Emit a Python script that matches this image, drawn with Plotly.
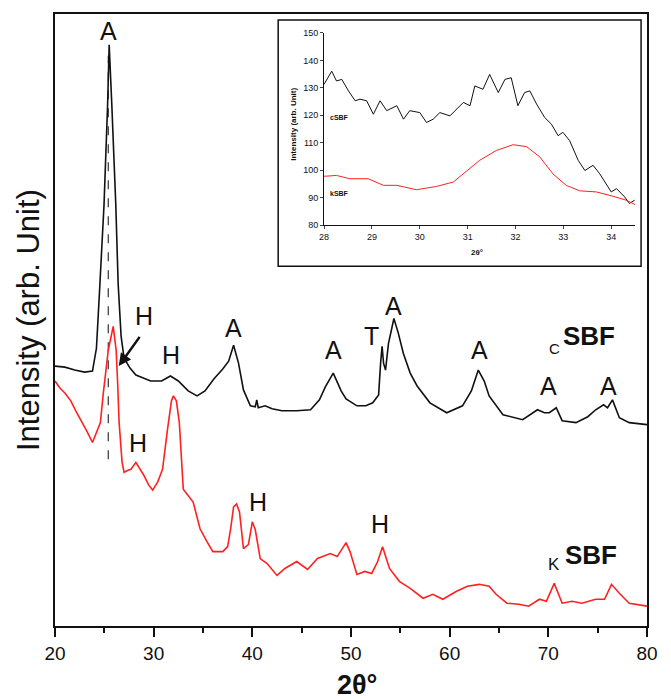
import plotly.graph_objects as go

# Main pattern: 2theta (deg) and intensity (arb. units)
csbf_2theta = [20.0, 21.0, 22.0, 23.0, 23.8, 24.2, 24.5, 24.97, 25.33, 25.49, 25.76, 26.16, 26.4, 26.7,
               27.0, 27.6, 28.2, 29.7, 30.8, 31.7, 32.5, 33.5, 34.4, 35.2, 36.1, 37.0, 37.6, 38.1,
               38.6, 39.1, 39.8, 40.3, 40.45, 40.6, 41.3, 42.0, 43.0, 44.5, 45.9, 46.8, 47.4, 48.2,
               49.0, 49.5, 50.6, 51.5, 52.2, 52.8, 53.0, 53.15, 53.3, 53.5, 53.8, 54.35, 54.8, 55.3,
               56.0, 56.7, 58.0, 59.7, 61.3, 62.2, 62.9, 63.5, 64.0, 65.4, 67.4, 68.4, 68.9, 69.6,
               70.1, 70.8, 71.4, 72.8, 74.0, 74.8, 75.6, 76.0, 76.5, 77.2, 78.2, 80.0]
csbf_int = [262, 261, 258, 256, 257, 280, 335, 425, 525, 586, 525, 425, 345, 292,
            270, 260, 253, 247, 247, 252, 247, 237, 232, 237, 249, 259, 267, 283,
            265, 238, 222, 221, 228, 220, 222, 219, 217, 217, 218, 228, 241, 255,
            237, 229, 222, 222, 225, 233, 265, 282, 265, 258, 285, 310, 295, 275,
            255, 242, 225, 215, 222, 237, 258, 247, 232, 213, 208, 215, 218, 215,
            215, 220, 207, 205, 211, 218, 223, 220, 228, 210, 205, 203]

ksbf_2theta = [20.0, 20.5, 21.0, 21.6, 22.2, 22.6, 23.2, 23.8, 24.1, 24.6, 24.9, 25.4, 25.9, 26.2,
               26.35, 26.5, 26.8, 27.0, 27.4, 27.7, 28.2, 28.6, 29.0, 29.5, 29.9, 30.4, 30.9, 31.4,
               31.8, 32.0, 32.3, 32.6, 33.0, 34.0, 34.7, 35.4, 36.0, 37.0, 37.5, 37.8, 38.1, 38.4,
               38.7, 39.1, 39.6, 40.0, 40.3, 40.8, 41.5, 42.5, 43.3, 44.5, 45.6, 46.6, 47.9, 48.6,
               49.5, 49.9, 50.6, 51.4, 52.1, 52.7, 53.2, 53.9, 54.9, 56.0, 57.3, 58.3, 59.3, 60.7,
               61.8, 63.0, 64.0, 64.7, 65.8, 67.0, 68.0, 69.1, 69.8, 70.6, 71.4, 72.4, 73.4, 74.8,
               75.7, 76.4, 77.2, 78.2, 80.0]
ksbf_int = [247, 240, 235, 227, 215, 208, 197, 185, 193, 205, 235, 278, 302, 278,
            245, 205, 165, 155, 157, 158, 165, 159, 152, 142, 137, 145, 158, 198,
            227, 232, 227, 205, 138, 125, 98, 85, 75, 75, 80, 98, 120, 123,
            115, 78, 82, 105, 97, 68, 63, 51, 58, 65, 57, 68, 73, 70,
            84, 75, 52, 55, 53, 65, 80, 58, 45, 38, 28, 32, 27, 35,
            40, 42, 40, 32, 23, 22, 20, 27, 25, 43, 23, 25, 23, 27,
            27, 42, 33, 23, 20]

# Inset: zoom on 28-34.5 deg
inset_c_2theta = [28.0, 28.16, 28.26, 28.37, 28.51, 28.65, 28.75, 28.89, 29.03, 29.17, 29.31, 29.52,
                  29.66, 29.79, 30.0, 30.14, 30.28, 30.42, 30.63, 30.77, 30.91, 31.05, 31.15, 31.32,
                  31.46, 31.64, 31.78, 31.91, 32.05, 32.19, 32.3, 32.44, 32.61, 32.75, 32.89, 32.99,
                  33.13, 33.31, 33.45, 33.62, 33.76, 34.0, 34.11, 34.28, 34.38, 34.49]
inset_c_int = [131.3, 136.1, 132.5, 133.1, 128.9, 125.3, 125.9, 125.3, 120.4, 125.3, 121.7, 123.5,
               118.6, 121.7, 121.0, 117.4, 118.6, 121.0, 119.8, 122.3, 124.7, 123.5, 130.7, 129.5,
               134.9, 128.3, 133.1, 133.7, 123.5, 128.3, 128.9, 124.1, 119.2, 116.8, 112.6, 113.8,
               110.8, 103.6, 99.9, 101.8, 98.7, 92.1, 93.3, 90.3, 87.9, 89.1]
inset_k_2theta = [28.0, 28.26, 28.54, 28.92, 29.24, 29.52, 29.93, 30.35, 30.7, 30.91, 31.25, 31.6,
                  31.95, 32.23, 32.51, 32.78, 33.06, 33.34, 33.69, 34.04, 34.31, 34.52]
inset_k_int = [97.8, 98.1, 96.9, 96.9, 94.5, 94.5, 92.9, 94.1, 95.7, 98.7, 103.6, 107.2,
               109.3, 108.6, 104.8, 98.7, 94.5, 92.5, 92.1, 90.5, 89.1, 87.3]

x_ticks = [20, 30, 40, 50, 60, 70, 80]
inset_x_ticks = [28, 29, 30, 31, 32, 33, 34]
inset_y_ticks = [80, 90, 100, 110, 120, 130, 140, 150]

# peak labels: (text, 2theta, intensity)
peak_labels = [
    ("A", 25.45, 600), ("H", 29.0, 313), ("H", 31.72, 273), ("A", 38.08, 300),
    ("A", 48.18, 278), ("T", 52.12, 292), ("A", 54.34, 323), ("A", 63.03, 278),
    ("A", 70.0, 242), ("A", 76.06, 242), ("H", 28.38, 185), ("H", 40.6, 125),
    ("H", 52.93, 103),
]
ref_peak = 25.4
ref_line_int = [168, 575]

BLACK = "#111111"
RED = "#ff2020"
FONT = "Liberation Sans, Arial, sans-serif"

fig = go.Figure()

fig.add_trace(go.Scatter(x=[ref_peak, ref_peak], y=ref_line_int, mode="lines",
                         line=dict(color="#333333", width=1.2, dash="dash"), showlegend=False))
fig.add_trace(go.Scatter(x=csbf_2theta, y=csbf_int, mode="lines",
                         line=dict(color=BLACK, width=1.6), showlegend=False))
fig.add_trace(go.Scatter(x=ksbf_2theta, y=ksbf_int, mode="lines",
                         line=dict(color=RED, width=1.6), showlegend=False))

fig.add_trace(go.Scatter(x=inset_c_2theta, y=inset_c_int, mode="lines", xaxis="x2", yaxis="y2",
                         line=dict(color=BLACK, width=1), showlegend=False))
fig.add_trace(go.Scatter(x=inset_k_2theta, y=inset_k_int, mode="lines", xaxis="x2", yaxis="y2",
                         line=dict(color=RED, width=1), showlegend=False))

annotations = []
for text, x, y in peak_labels:
    annotations.append(dict(x=x, y=y, xref="x", yref="y", text=text, showarrow=False,
                            font=dict(family=FONT, size=25, color=BLACK)))

# arrow pointing at the H shoulder
annotations.append(dict(x=26.46, y=262, ax=28.69, ay=293, xref="x", yref="y", axref="x", ayref="y",
                        text="", showarrow=True, arrowhead=2, arrowsize=1, arrowwidth=2.5,
                        arrowcolor=BLACK))

# sample names
annotations += [
    dict(x=70.6, y=280, xref="x", yref="y", text="C", showarrow=False,
         font=dict(family=FONT, size=15, color=BLACK)),
    dict(x=74.1, y=292, xref="x", yref="y", text="<b>SBF</b>", showarrow=False,
         font=dict(family=FONT, size=26, color=BLACK)),
    dict(x=70.6, y=62, xref="x", yref="y", text="K", showarrow=False,
         font=dict(family=FONT, size=17, color=BLACK)),
    dict(x=74.3, y=72, xref="x", yref="y", text="<b>SBF</b>", showarrow=False,
         font=dict(family=FONT, size=26, color=BLACK)),
]

# axis titles
annotations += [
    dict(x=-0.0456, y=0.5, xref="paper", yref="paper", text="Intensity (arb. Unit)", textangle=-90,
         xanchor="center", yanchor="middle", showarrow=False,
         font=dict(family=FONT, size=31, color=BLACK)),
    dict(x=0.510, y=-0.0956, xref="paper", yref="paper", text="<b>2θ°</b>",
         xanchor="center", yanchor="middle", showarrow=False,
         font=dict(family=FONT, size=27, color=BLACK)),
]

# inset texts
annotations += [
    dict(x=28.33, y=119.3, xref="x2", yref="y2", text="<b>cSBF</b>", showarrow=False,
         font=dict(family=FONT, size=7, color=BLACK)),
    dict(x=28.33, y=91.5, xref="x2", yref="y2", text="<b>kSBF</b>", showarrow=False,
         font=dict(family=FONT, size=7, color=BLACK)),
    dict(x=31.19, y=0.61, xref="x2", yref="paper", text="<b>2θ°</b>", showarrow=False,
         xanchor="center", yanchor="middle", font=dict(family=FONT, size=8, color=BLACK)),
    dict(x=0.403, y=0.82, xref="paper", yref="paper", text="<b>Intensity (arb. Unit)</b>",
         textangle=-90, xanchor="center", yanchor="middle", showarrow=False,
         font=dict(family=FONT, size=8, color=BLACK)),
]

# page body adds an 8px margin, so the figure is offset by 8px
fig.update_layout(
    width=663,
    height=691,
    margin=dict(l=47, r=24, t=1, b=73),
    plot_bgcolor="white",
    paper_bgcolor="white",
    showlegend=False,
    annotations=annotations,
    shapes=[dict(type="rect", xref="paper", yref="paper", x0=0.377, x1=0.990, y0=0.588, y1=0.990,
                 line=dict(color=BLACK, width=1.5), fillcolor="rgba(0,0,0,0)")],
    xaxis=dict(range=[20, 80], tickvals=x_ticks, ticks="outside", ticklen=9, tickwidth=1.5,
               tickcolor=BLACK, showline=True, linecolor=BLACK, linewidth=2, mirror=True,
               showgrid=False, zeroline=False, automargin=False,
               minor=dict(dtick=5, ticks="outside", ticklen=5, tickwidth=1.5, tickcolor=BLACK),
               tickfont=dict(family=FONT, size=19, color=BLACK)),
    yaxis=dict(range=[0, 617], showticklabels=False, ticks="", showline=True, linecolor=BLACK,
               linewidth=2, mirror=True, showgrid=False, zeroline=False, automargin=False),
    xaxis2=dict(domain=[0.4545, 0.980], anchor="y2", range=[28, 34.5], tickvals=inset_x_ticks,
                ticks="outside", ticklen=3, showline=True, linecolor=BLACK, linewidth=1,
                showgrid=False, zeroline=False,
                tickfont=dict(family=FONT, size=9, color=BLACK), tickprefix="<b>", ticksuffix="</b>"),
    yaxis2=dict(domain=[0.655, 0.969], anchor="x2", range=[80, 150], tickvals=inset_y_ticks,
                ticks="outside", ticklen=3, showline=True, linecolor=BLACK, linewidth=1,
                showgrid=False, zeroline=False,
                tickfont=dict(family=FONT, size=9, color=BLACK), tickprefix="<b>", ticksuffix="</b>"),
)

fig.write_html("out.html")
